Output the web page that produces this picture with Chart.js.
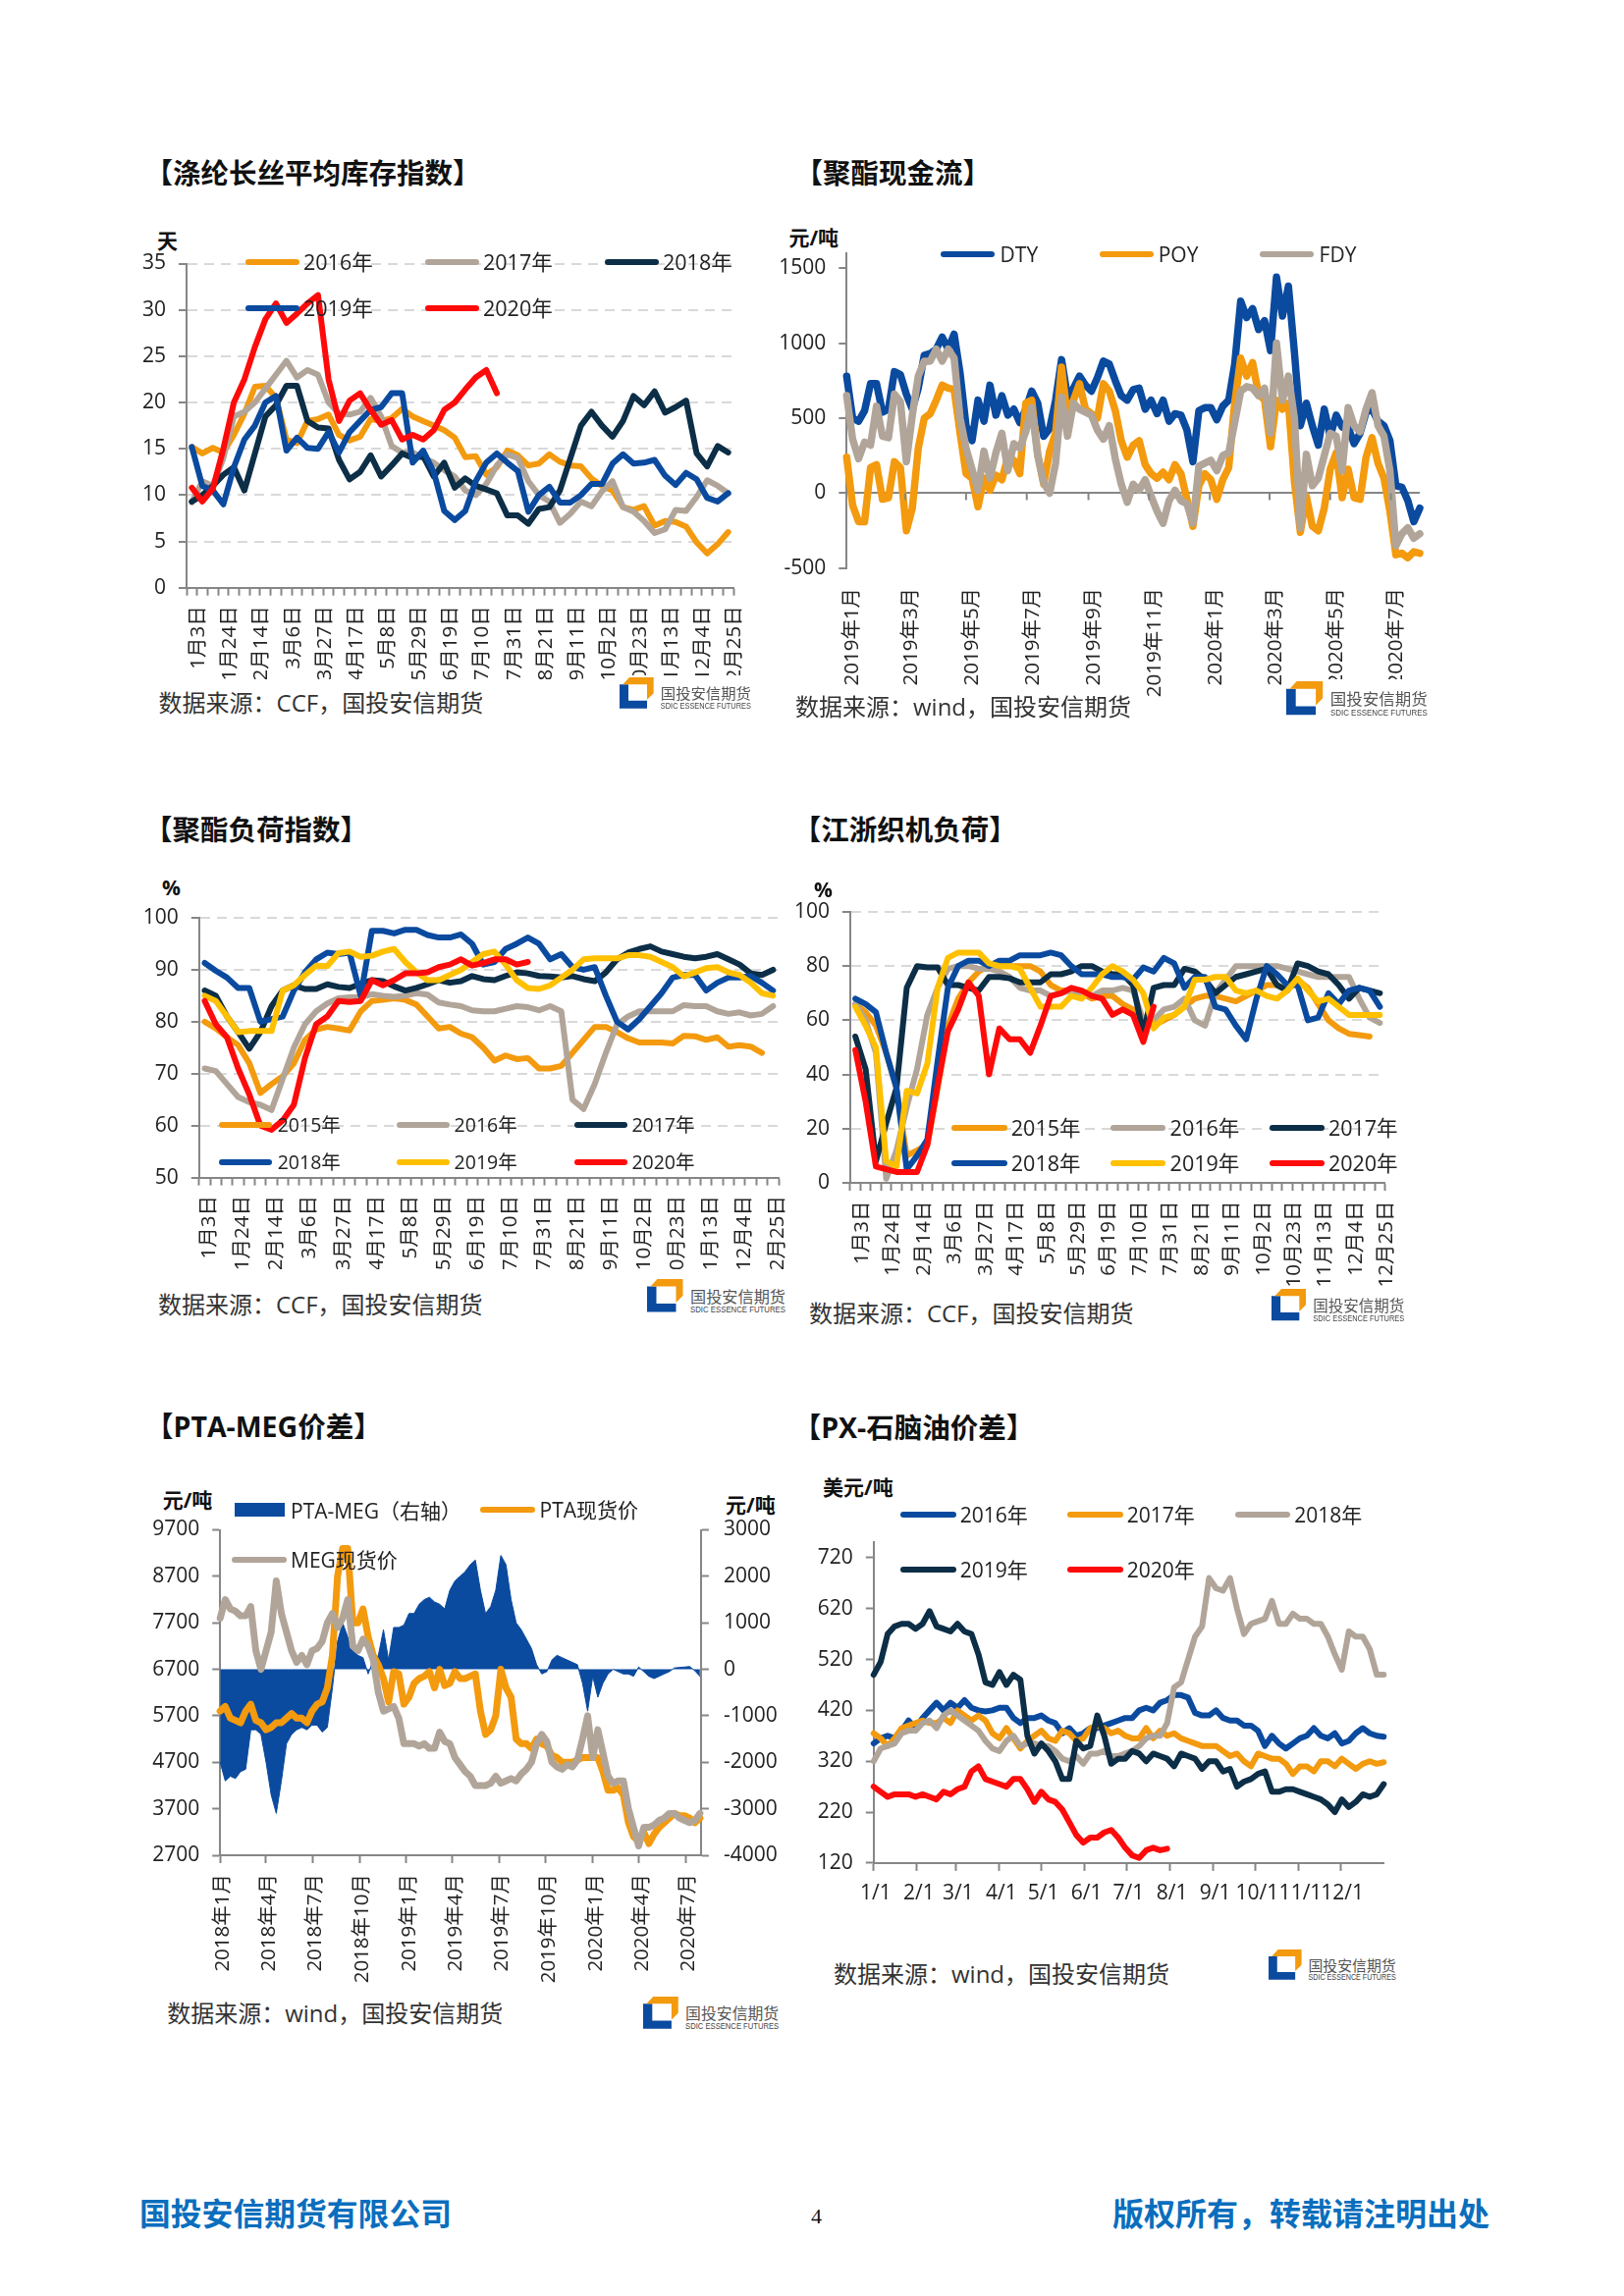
<!DOCTYPE html>
<html lang="zh"><head><meta charset="utf-8">
<style>
html,body{margin:0;padding:0;background:#fff}
#page{position:relative;width:1654px;height:2339px;overflow:hidden;background:#fff;font-family:"Open Sans","Noto Sans CJK SC",sans-serif;color:#222}
canvas{position:absolute;display:block}
.t{position:absolute;white-space:nowrap;line-height:1;transform:translateY(-50%)}
.s{position:absolute;height:6px;border-radius:3px;transform:translateY(-50%)}
</style>
<script src="https://cdn.jsdelivr.net/npm/chart.js@4"></script>
</head><body><div id="page"></div>
<script>
/* ---------- categories ---------- */
const weekLabels=['1月3日','1月10日','1月17日','1月24日','1月31日','2月7日','2月14日','2月21日','2月28日','3月6日','3月13日','3月20日','3月27日','4月3日','4月10日','4月17日','4月24日','5月1日','5月8日','5月15日','5月22日','5月29日','6月5日','6月12日','6月19日','6月26日','7月3日','7月10日','7月17日','7月24日','7月31日','8月7日','8月14日','8月21日','8月28日','9月4日','9月11日','9月18日','9月25日','10月2日','10月9日','10月16日','10月23日','10月30日','11月6日','11月13日','11月20日','11月27日','12月4日','12月11日','12月18日','12月25日'];

/* ---------- 涤纶长丝平均库存指数 ---------- */
const inv2016=[15.2,14.5,15.1,14.6,16.5,18.8,21.7,21.8,20.5,16.0,15.6,18.0,18.2,18.7,16.5,15.9,16.3,18.2,18.0,18.3,19.3,18.5,18.0,17.5,17.0,16.2,14.1,14.2,12.2,13.0,14.8,14.3,13.2,13.4,14.4,13.6,13.2,13.1,11.8,11.0,10.5,8.7,8.4,8.8,6.7,7.2,7.1,6.6,4.9,3.7,4.7,6.0];
const inv2017=[9.2,11.5,11,14,18.5,19,20,21.5,23,24.5,22.7,23.5,23,20,18.8,18.7,19,20.5,18.5,15.3,14.6,14.6,14,13.5,12.7,12,10.5,10,11.2,13.2,14.4,14,11.5,10,9.3,7,8,9.3,8.8,10.4,11.5,8.7,8.2,7.2,5.9,6.3,8.4,8.3,9.8,11.6,11,10.2];
const inv2018=[9.3,10,11,12.2,13,10.5,14.5,18.5,19.7,21.8,21.8,18,17.3,17.2,13.8,11.7,12.5,14.3,12,13.2,14.5,14,14.2,12,13.5,10.8,11.8,11,10.6,10.2,7.8,7.8,6.9,8.5,8.7,10.5,14,17.5,19,17.5,16.3,18,20.7,19.7,21.2,18.9,19.5,20.2,14.5,13.1,15.3,14.6];
const inv2019=[15.2,11,10.5,9,13,16,17.5,20,20.7,14.8,16.2,15.1,15,16.8,14.6,16.8,18,19.2,19.5,21,21,13.5,14.8,12.5,8.3,7.3,8.3,11.5,13.5,14.5,13.5,12.6,8.2,10,10.9,9.2,9.2,10,11.2,11.2,13.4,14.4,13.4,13.5,13.8,12.1,11.1,12.4,11.7,9.7,9.3,10.2];
const inv2020=[10.8,9.3,10.7,15,20,22.5,26,29,30.7,28.6,29.6,30.7,31.6,22.5,18,20.2,21,19.2,17.6,18.1,16,16.5,16,17,19.2,20,21.4,22.7,23.5,21];
const invTicks=[0,5,10,15,20,25,30,35];

/* ---------- 聚酯现金流 ---------- */
const cfDTY=[780,500,480,550,730,730,540,560,810,790,660,560,700,920,930,960,1040,960,1060,800,450,350,620,480,720,520,650,520,560,470,560,680,600,380,430,620,890,640,700,780,720,680,770,880,860,750,650,620,690,700,560,620,530,620,480,530,520,420,210,550,570,570,490,580,620,860,1280,1170,1230,1090,1150,950,1440,1180,1380,940,450,600,450,320,560,380,520,440,440,330,400,540,560,480,450,350,50,40,-50,-190,-100];
const cfPOY=[240,-80,-190,-190,170,190,-40,-30,210,170,-250,-100,300,500,530,620,720,700,690,400,130,100,-90,100,20,120,90,240,220,130,600,620,260,60,280,400,840,500,620,730,560,530,500,730,680,550,350,240,320,350,190,130,100,140,90,190,130,-40,-220,50,130,90,-40,90,170,600,900,780,870,660,620,310,620,560,600,80,-260,-20,-220,-250,-100,160,270,-30,160,-30,-40,240,370,200,100,-120,-410,-400,-430,-390,-400];
const cfFDY=[650,360,230,340,320,580,380,370,660,610,210,520,780,880,880,960,880,960,900,500,300,160,20,280,100,270,400,150,330,300,410,570,250,70,0,200,640,380,600,560,540,520,420,360,450,230,60,-60,60,20,90,-20,-120,-200,-50,20,-50,-70,-200,180,200,220,150,250,270,470,680,710,700,650,700,400,1000,620,780,500,-230,260,50,100,250,400,380,150,570,450,410,560,670,450,380,150,-350,-270,-230,-300,-270];
const cfStepDays=6;
const cfTickDates=['2019-01-01','2019-03-01','2019-05-01','2019-07-01','2019-09-01','2019-11-01','2020-01-01','2020-03-01','2020-05-01','2020-07-01'];
const cfTickLabels=['2019年1月','2019年3月','2019年5月','2019年7月','2019年9月','2019年11月','2020年1月','2020年3月','2020年5月','2020年7月'];
const cfTicks=[-500,0,500,1000,1500];

/* ---------- 聚酯负荷指数 ---------- */
const pl2015=[80,78.7,77,75.5,72,66.3,68,69.5,72,76.5,78.5,79,78.7,78.3,82,84,84.2,84.5,84.2,83.3,81,78.7,79,77.7,77,75,72.5,73.5,72.8,73,71,71,71.5,74,76.5,79,79,78,76.8,76,76,76,75.8,77.3,77.2,76.5,77,75.2,75.5,75.2,74];
const pl2016=[71,70.5,68,65.5,64.5,64,63,69,75,79.5,82,83.5,84.5,84.7,84.7,85.3,85,84.8,85,85.5,85.2,83.7,83.3,83,82.2,82,82,82.5,83,82.8,82.2,83,82,65,63.2,68,74,79.5,81,82,82,82,82,83.2,83,83,82,81.5,81.8,81.2,81.5,83];
const pl2017=[86,85,81,78,74.8,78,83,86,87,86.3,86.3,87.2,86.7,86.5,87.3,88,87.8,86.8,86,86.5,87.2,88,87.5,87.8,88.8,88.2,88,88.8,89.5,89.3,88.8,88.7,88.5,88.8,88.2,87.8,89.5,92,93.3,94,94.5,93.5,93,92.5,92.2,92.5,93,92,91,89.3,89,90];
const pl2018=[91.3,89.8,88.5,86.5,86.5,80,80.5,81,86,89.5,92,93.3,93,93.3,85,97.5,97.5,97,97.7,97.7,96.7,96.2,96.2,96.8,95,91,91.5,94,95,96.2,95,92,93,90.5,90,90.5,85,80,78.5,80.5,83,85.5,88.5,89,89,86,87.5,88.5,88.5,88.8,87.5,86];
const pl2019=[85,84,81,78,78.2,78.2,78.2,86,87,89,90.8,90.7,93.2,93.5,92.5,92.7,93.5,94,91.5,89.5,88,88,89,90,91.5,93,93.5,91,88,86.5,86.3,87,88.5,90,92,92.2,92.2,92.2,92.8,92.8,92.5,91.5,90.5,88.7,89.5,90.3,90.5,89.5,89,87.5,85.5,85];
const pl2020=[84,79.5,77,71,66,60,59.2,61,64,73,79.5,81,84,83.8,84,88,87,88,89.3,89.3,89.5,90.5,91,92,90.8,91.3,92,92,91,91.5];
const plTicks=[50,60,70,80,90,100];

/* ---------- 江浙织机负荷 ---------- */
const wv2015=[66,63,58,48,35,10,12,14,35,58,68,74,78,80,80,80,80,80,78,73,71,71,70,68,69,69,66,64,61,58,60,62,65,68,69,69,68,67,69,71,73,73,71,75,72,66,60,57,55,54.5,54];
const wv2016=[66,60,48,1.5,12,28,42,62,72,79,80,80,79,79,78,76,72,71,71,69,70,71,70,69,71,71,72,71,60,60,64,65,68,60,58,70,75,80,80,80,80,80,79,78,77,76,76,76,76,68,61,59];
const wv2017=[54,42,8,22,35,72,80,79.5,79.5,73,73,72,71,76,76,75.5,74,74,74,77,77,78,80,80,78,77,77,73,55,72,73,73,79,78,75,70,73,76,77,78,79,73,71,81,80,78,77,73,68,72,71,70];
const wv2018=[68,66,63,48,35,5,10,16,45,72,80,82,82,80,82,82,84,84,84,85,84,80,77,77,77,76,76,75,79.5,78,83,81,72,76,76,65,64,58,53,68,80,77,73,73,60,61,70,66,71,72,71,65];
const wv2019=[65,58,50,8,6,34,33,44,72,83,85,85,85,81,80,80,79,72,65,65,65,69,68,72,77,80,78,75,70,57,61,62,65,75,75,76,76,71,70,71,69,68,71,75.5,71,67,68,65,62,62,62,62];
const wv2020=[49,30,6,5,4,4,4,14,36,56,64,74,69,40,57,53,53,48,58,69,70,72,71,69,68,62,64,62,52,65];
const wvTicks=[0,20,40,60,80,100];

/* ---------- PTA-MEG价差 ---------- */
const spreadPM=[-2000,-2400,-2300,-2350,-2200,-2150,-1300,-1300,-1400,-2000,-2700,-3100,-2400,-1600,-1400,-1300,-1250,-1300,-1200,-1200,-1350,-1250,-400,600,1000,700,400,300,250,-100,200,300,850,200,900,900,950,1200,1200,1400,1500,1550,1450,1400,1300,1700,1900,2000,2100,2250,2350,1700,1200,1350,1700,2450,2250,1500,1000,850,650,450,100,-100,-50,200,300,250,200,150,100,-300,-900,-150,-600,-300,-100,0,-50,-100,-100,-150,50,-50,-150,-200,-150,-100,-50,30,40,50,60,-30,-150];
const ptaSpot=[5800,5900,5650,5600,5550,5800,5950,5600,5550,5400,5450,5550,5550,5650,5750,5650,5650,5550,5800,5950,6000,6300,7000,8700,9300,9300,7700,7700,8000,7400,7000,6800,6500,6000,6650,6600,5950,6100,6400,6500,6550,6650,6300,6700,6350,6400,6650,6500,6500,6550,6600,5800,5300,5400,5700,6700,6300,6100,5200,5100,5100,5000,5200,5100,5050,4850,4800,4700,4700,4700,4750,4800,4800,4800,4800,4500,4100,4100,4150,4000,3400,3100,3000,3200,2950,3150,3300,3400,3500,3600,3550,3550,3500,3400,3500];
const megSpot=[7800,8200,8000,7950,7850,7850,8050,7100,6700,7100,7500,8600,7900,7500,7100,6850,7000,6800,7100,7150,7300,7700,7900,7600,7800,8200,7200,7100,7350,7200,6900,6200,5800,5850,5900,5650,5100,5100,5100,5050,5100,5000,5000,5350,5150,5100,4800,4650,4500,4400,4200,4200,4200,4250,4400,4250,4300,4350,4300,4450,4550,4700,5100,5300,5150,4700,4600,4550,4650,4600,4750,5200,5700,4800,5400,4900,4400,4250,4300,4300,3700,3300,2900,3300,3300,3350,3450,3500,3600,3600,3500,3450,3400,3450,3600];
const pmStepDays=10;
const pmTickDates=['2018-01-01','2018-04-01','2018-07-01','2018-10-01','2019-01-01','2019-04-01','2019-07-01','2019-10-01','2020-01-01','2020-04-01','2020-07-01'];
const pmTickLabels=['2018年1月','2018年4月','2018年7月','2018年10月','2019年1月','2019年4月','2019年7月','2019年10月','2020年1月','2020年4月','2020年7月'];
const pmLeftTicks=[2700,3700,4700,5700,6700,7700,8700,9700];
const pmRightTicks=[-4000,-3000,-2000,-1000,0,1000,2000,3000];

/* ---------- PX-石脑油价差 ---------- */
const px2016=[355,365,370,365,380,400,385,405,420,435,420,435,425,440,425,420,418,420,425,425,405,395,405,405,410,400,395,375,385,370,375,385,385,390,395,400,405,405,420,425,420,435,440,450,450,445,415,410,410,420,405,400,400,390,390,380,350,370,355,345,355,365,370,385,370,365,375,355,360,375,385,375,370,368];
const px2017=[375,365,350,365,385,390,395,400,395,395,405,395,420,410,400,410,400,375,365,385,365,345,360,370,380,365,360,380,375,360,365,385,390,385,375,380,370,365,365,385,365,380,370,375,365,360,355,350,350,350,340,330,335,320,310,335,330,325,325,315,295,310,310,300,320,320,310,325,315,305,315,320,315,318];
const px2018=[320,345,350,355,375,380,380,395,400,385,410,420,410,400,390,380,360,345,340,360,370,350,355,355,350,350,340,325,320,330,315,335,335,340,330,330,335,340,350,365,370,370,395,465,475,520,565,585,680,660,655,680,620,570,590,595,600,635,590,590,610,600,600,590,590,565,530,500,575,565,565,540,490,490];
const px2019=[490,515,570,585,590,590,580,590,615,585,580,575,590,575,570,530,475,470,495,470,490,480,370,335,355,340,320,285,285,360,345,350,410,370,315,325,325,340,335,320,335,330,325,310,335,330,325,305,320,320,300,305,270,280,285,295,300,260,260,265,265,260,255,250,245,235,220,245,230,240,255,250,255,275];
const px2020=[270,260,250,255,255,255,250,255,250,245,260,255,265,270,300,310,285,280,275,270,285,285,265,240,260,245,240,225,200,175,160,170,170,180,185,170,150,135,130,145,150,145,148];
const pxStepDays=5;
const pxTickDates=['2019-01-01','2019-02-01','2019-03-01','2019-04-01','2019-05-01','2019-06-01','2019-07-01','2019-08-01','2019-09-01','2019-10-01','2019-11-01','2019-12-01'];
const pxTickLabels=['1/1','2/1','3/1','4/1','5/1','6/1','7/1','8/1','9/1','10/1','11/1','12/1'];
const pxTicks=[120,220,320,420,520,620,720];

/* ---------- style ---------- */
const C={o:'#F39A0E',t:'#B1A599',n:'#0C2E47',b:'#0A4A9F',r:'#FF0A0A',y:'#FFC000',ax:'#868686',g:'#D9D9D9'};
const FF='"Open Sans","Noto Sans CJK SC",sans-serif';
const page=document.getElementById('page');
Chart.defaults.font.family=FF; Chart.defaults.color='#222';

function text(s,x,y,size,o={}){const d=document.createElement('div');d.className='t';d.textContent=s;
  d.style.cssText+=`left:${x}px;top:${y}px;font-size:${size}px;`+(o.bold?'font-weight:700;':'')+(o.color?`color:${o.color};`:'')+(o.family?`font-family:${o.family};`:'');
  page.appendChild(d);return d;}
function title(s,inkX,y){text(s,inkX-14,y,28.5,{bold:true,color:'#111'});}
function unit(s,x,y){text(s,x,y,21,{bold:true,color:'#111'});}
function source(s,x,y){text(s,x,y,24,{color:'#333'});}
function legend(items,size){items.forEach(([c,a,b,y,s,tx])=>{const d=document.createElement('div');d.className='s';
  d.style.cssText+=`left:${a}px;width:${b-a}px;top:${y}px;background:${c};`;page.appendChild(d);text(s,tx,y,size,{color:'#222'});});}
function logo(x,y,f){
  const ns='http://www.w3.org/2000/svg';const w=document.createElement('div');
  w.style.cssText=`position:absolute;left:${x-4}px;top:${y-2}px;width:${150*f}px;height:${40*f}px;background:#fff`;
  w.innerHTML=`<svg xmlns="${ns}" width="150" height="46" style="position:absolute;left:4px;top:2px;overflow:visible"><g transform="scale(${f})">
  <path d="M0 7.5H9.5V25H29.5V33.5H0Z" fill="#0A4A9F"/><path d="M10.5 0H36.5V17L29.5 24V7.5H3.5Z" fill="#F39A0E"/>
  <text x="44" y="23.5" font-size="16" fill="#555" font-family='"Noto Sans CJK SC"' textLength="97" lengthAdjust="spacingAndGlyphs">国投安信期货</text>
  <text x="44" y="34" font-size="9.5" fill="#444" font-family='"Liberation Sans"' textLength="97" lengthAdjust="spacingAndGlyphs">SDIC ESSENCE FUTURES</text></g></svg>`;
  page.appendChild(w);
}
function days(a,b){return Math.round((Date.parse(b)-Date.parse(a))/864e5);}
let lw=6;
function line(label,data,color,i,extra={}){return Object.assign({label,data,borderColor:color,backgroundColor:color,borderWidth:lw,pointRadius:0,tension:0,borderJoinStyle:'round',borderCapStyle:'round',fill:false,order:100-i,clip:8},extra);}
function xy(values,step){return values.map((y,i)=>({x:i*step,y}));}

function make(cv,p,datasets,scales,extraPlugins=[],labels){
  const c=document.createElement('canvas');c.width=cv.r-cv.l;c.height=cv.b-cv.t;
  c.style.left=cv.l+'px';c.style.top=cv.t+'px';page.appendChild(c);
  const adj={top:p.t-cv.t,right:cv.r-p.r,yw:p.l-cv.l,xh:cv.b-p.b};
  const hasRight=Object.values(scales).some(s=>s.position==='right');
  Object.values(scales).forEach(s=>{
    if(s.axis==='x'){s.afterFit=a=>{a.height=adj.xh;};}
    else if(s.position==='right'){s.afterFit=a=>{a.width=adj.right;};}
    else{s.afterFit=a=>{a.width=adj.yw;};}
  });
  return new Chart(c,{type:'line',data:labels?{labels,datasets}:{datasets},plugins:extraPlugins,options:{
    responsive:false,animation:false,devicePixelRatio:1,
    layout:{padding:{top:adj.top,right:hasRight?0:adj.right,left:0,bottom:0}},
    plugins:{legend:{display:false},tooltip:{enabled:false},title:{display:false}},
    scales}});
}
function yScale(ticks,min,max,o={}){return Object.assign({type:'linear',axis:'y',position:'left',min,max,
  afterBuildTicks:s=>{s.ticks=ticks.map(value=>({value}));},
  ticks:{callback:v=>String(v),font:{size:21},color:'#222',padding:o.padding||13,autoSkip:false},
  border:{display:true,color:C.ax,width:2,dash:o.dash},
  grid:o.grid||{drawOnChartArea:false,tickColor:C.ax,tickLength:8,tickWidth:2}},o.scale||{});}
function weekX(labelOffset,padding){return{type:'category',axis:'x',position:'bottom',offset:true,
  ticks:{autoSkip:false,maxRotation:90,minRotation:90,labelOffset,padding,font:{size:20.5},color:'#222',
    callback(v,i){return i%3===0?this.getLabelForValue(v):'';}},
  border:{display:true,color:C.ax,width:2},
  grid:{offset:true,drawOnChartArea:false,tickColor:C.ax,tickLength:8,tickWidth:2}};}
function dayX(start,tickDates,tickLabels,max,o){const pos=tickDates.map(d=>days(start,d));
  return{type:'linear',axis:'x',position:'bottom',min:0,max,
  afterBuildTicks:s=>{s.ticks=pos.map(value=>({value}));},
  ticks:{autoSkip:false,maxRotation:o.rot,minRotation:o.rot,labelOffset:o.off,padding:o.pad,font:{size:o.size||20.5},color:'#222',
    callback:(v)=>tickLabels[pos.indexOf(v)]},
  border:{display:o.border!==false,color:C.ax,width:2},
  grid:{drawOnChartArea:false,drawTicks:o.drawTicks!==false,tickColor:C.ax,tickLength:8,tickWidth:2}};}
const dashGrid={color:C.g,lineWidth:2,tickColor:C.ax,tickLength:8,tickWidth:2};

/* ---- 1 涤纶长丝平均库存指数 ---- */
title('【涤纶长丝平均库存指数】',161.6,175.6);unit('天',160,244.8);
lw=6;
make({l:110,t:230,r:790,b:692},{l:190,r:747,t:268.5,b:598.7},[
  line('2016年',inv2016,C.o,0),line('2017年',inv2017,C.t,1),line('2018年',inv2018,C.n,2),line('2019年',inv2019,C.b,3),line('2020年',inv2020,C.r,4)],
  {x:weekX(7,10.6),y:yScale(invTicks,0,35,{dash:[10,7],grid:dashGrid})},[],weekLabels);
legend([[C.o,250,305,266.5,'2016年',309],[C.t,433,488,266.5,'2017年',492],[C.n,616,671,266.5,'2018年',675],[C.b,250,305,314,'2019年',309],[C.r,433,488,314,'2020年',492]],21.5);
source('数据来源：CCF，国投安信期货',161.6,716);logo(631,690,.95);

/* ---- 2 聚酯现金流 ---- */
title('【聚酯现金流】',823.5,175.6);unit('元/吨',803.4,242);
const zeroTicks={id:'zeroTicks',afterDatasetsDraw(ch){const x=ch.scales.x,y=ch.scales.y,g=ch.ctx,y0=y.getPixelForValue(0);g.save();g.strokeStyle=C.ax;g.lineWidth=2;
  x.ticks.forEach((t,i)=>{if(i===0)return;const px=x.getPixelForValue(t.value);g.beginPath();g.moveTo(px,y0);g.lineTo(px,y0+7);g.stroke();});g.restore();}};
lw=7.5;
make({l:780,t:215,r:1500,b:724},{l:862.3,r:1446,t:257.8,b:578.9},[
  line('DTY',xy(cfDTY,cfStepDays),C.b,0),line('POY',xy(cfPOY,cfStepDays),C.o,1),line('FDY',xy(cfFDY,cfStepDays),C.t,2)],
  {x:dayX('2019-01-01',cfTickDates,cfTickLabels,576,{rot:90,off:6,pad:20,border:false,drawTicks:false}),
   y:yScale(cfTicks,-500,1600,{grid:{color:c=>c.tick.value===0?C.ax:'rgba(0,0,0,0)',lineWidth:2,tickColor:C.ax,tickLength:8,tickWidth:2}})},[zeroTicks]);
legend([[C.b,958.3,1013.2,259,'DTY',1018.6],[C.o,1120.4,1174.8,259,'POY',1179.7],[C.t,1283.3,1338,259,'FDY',1343.6]],21);
source('数据来源：wind，国投安信期货',810,720);logo(1310,694,1.02);

/* ---- 3 聚酯负荷指数 ---- */
title('【聚酯负荷指数】',161,845);unit('%',165,904);
lw=6;
make({l:130,t:895,r:835,b:1293},{l:202.8,r:793,t:935,b:1199.6},[
  line('2015年',pl2015,C.o,0),line('2016年',pl2016,C.t,1),line('2017年',pl2017,C.n,2),line('2018年',pl2018,C.b,3),line('2019年',pl2019,C.y,4),line('2020年',pl2020,C.r,5)],
  {x:weekX(5,10.4),y:yScale(plTicks,50,100,{dash:[10,7],grid:dashGrid})},[],weekLabels);
legend([[C.o,222.9,277.3,1146,'2015年',282.7],[C.t,403.7,458,1146,'2016年',462.6],[C.n,584.5,639,1146,'2017年',643.4],[C.b,222.9,277.3,1184,'2018年',282.7],[C.y,403.7,458,1184,'2019年',462.6],[C.r,584.5,639,1184,'2020年',643.4]],19.5);
source('数据来源：CCF，国投安信期货',161,1329);logo(659.3,1303,1);

/* ---- 4 江浙织机负荷 ---- */
title('【江浙织机负荷】',821.7,845);unit('%',829,905.7);
make({l:800,t:889,r:1455,b:1320},{l:865.9,r:1410.6,t:929,b:1205},[
  line('2015年',wv2015,C.o,0),line('2016年',wv2016,C.t,1),line('2017年',wv2017,C.n,2),line('2018年',wv2018,C.b,3),line('2019年',wv2019,C.y,4),line('2020年',wv2020,C.r,5)],
  {x:weekX(7,10.6),y:yScale(wvTicks,0,100,{dash:[10,7],grid:dashGrid})},[],weekLabels);
legend([[C.o,969,1025.5,1148.6,'2015年',1029.8],[C.t,1130.9,1187,1148.6,'2016年',1191.6],[C.n,1293,1348.6,1148.6,'2017年',1352.9],[C.b,969,1025.5,1185,'2018年',1029.8],[C.y,1130.9,1187,1185,'2019年',1191.6],[C.r,1293,1348.6,1185,'2020年',1352.9]],21.5);
source('数据来源：CCF，国投安信期货',823.9,1338);logo(1295,1313,.96);

/* ---- 5 PTA-MEG价差 ---- */
title('【PTA-MEG价差】',162,1452.6);unit('元/吨',165.7,1528.4);unit('元/吨',739,1533.4);
lw=7;
make({l:135,t:1520,r:800,b:2032},{l:224.2,r:713.9,t:1558.5,b:1890},[
  line('PTA-MEG（右轴）',xy(spreadPM,pmStepDays),C.b,0,{yAxisID:'y2',fill:'origin',borderWidth:1,order:200}),
  line('PTA现货价',xy(ptaSpot,pmStepDays),C.o,1,{yAxisID:'y'}),
  line('MEG现货价',xy(megSpot,pmStepDays),C.t,2,{yAxisID:'y'})],
  {x:dayX('2018-01-01',pmTickDates,pmTickLabels,942,{rot:90,off:3,pad:11}),
   y:yScale(pmLeftTicks,2700,9700),
   y2:yScale(pmRightTicks,-4000,3000,{padding:15,scale:{position:'right'}})});
(()=>{const d=document.createElement('div');d.style.cssText='position:absolute;left:238.5px;top:1531px;width:51px;height:14px;background:'+C.b;page.appendChild(d);})();
text('PTA-MEG（右轴）',296,1539,21,{color:'#222'});
legend([[C.o,489.4,545.2,1537.6,'PTA现货价',549.6],[C.t,236,291.6,1589.4,'MEG现货价',296]],21);
source('数据来源：wind，国投安信期货',170.2,2051);logo(654.5,2034,.98);

/* ---- 6 PX-石脑油价差 ---- */
title('【PX-石脑油价差】',821.7,1453.8);unit('美元/吨',838,1515);
lw=6;
make({l:805,t:1532,r:1455,b:1952},{l:889.8,r:1409.3,t:1571.3,b:1897.9},[
  line('2016年',xy(px2016,pxStepDays),C.b,0),line('2017年',xy(px2017,pxStepDays),C.o,1),line('2018年',xy(px2018,pxStepDays),C.t,2),line('2019年',xy(px2019,pxStepDays),C.n,3),line('2020年',xy(px2020,pxStepDays),C.r,4)],
  {x:dayX('2019-01-01',pxTickDates,pxTickLabels,365,{rot:0,off:2,pad:11,size:21}),y:yScale(pxTicks,120,750)});
legend([[C.b,917,973.5,1542.8,'2016年',977.8],[C.o,1087,1143.5,1542.8,'2017年',1147.8],[C.t,1257.5,1313.9,1542.8,'2018年',1318.2],[C.n,917,973.5,1599.4,'2019年',977.8],[C.r,1087,1143.5,1599.4,'2020年',1147.8]],21);
source('数据来源：wind，国投安信期货',849,2011.4);logo(1292,1986,.92);

/* ---- footer ---- */
text('国投安信期货有限公司',142,2255,31.8,{bold:true,color:'#0A6EBD'});
text('版权所有，转载请注明出处',1133,2255,32,{bold:true,color:'#0A6EBD'});
text('4',826,2258,22,{color:'#111',family:'"Liberation Serif",serif'});
</script></body></html>
